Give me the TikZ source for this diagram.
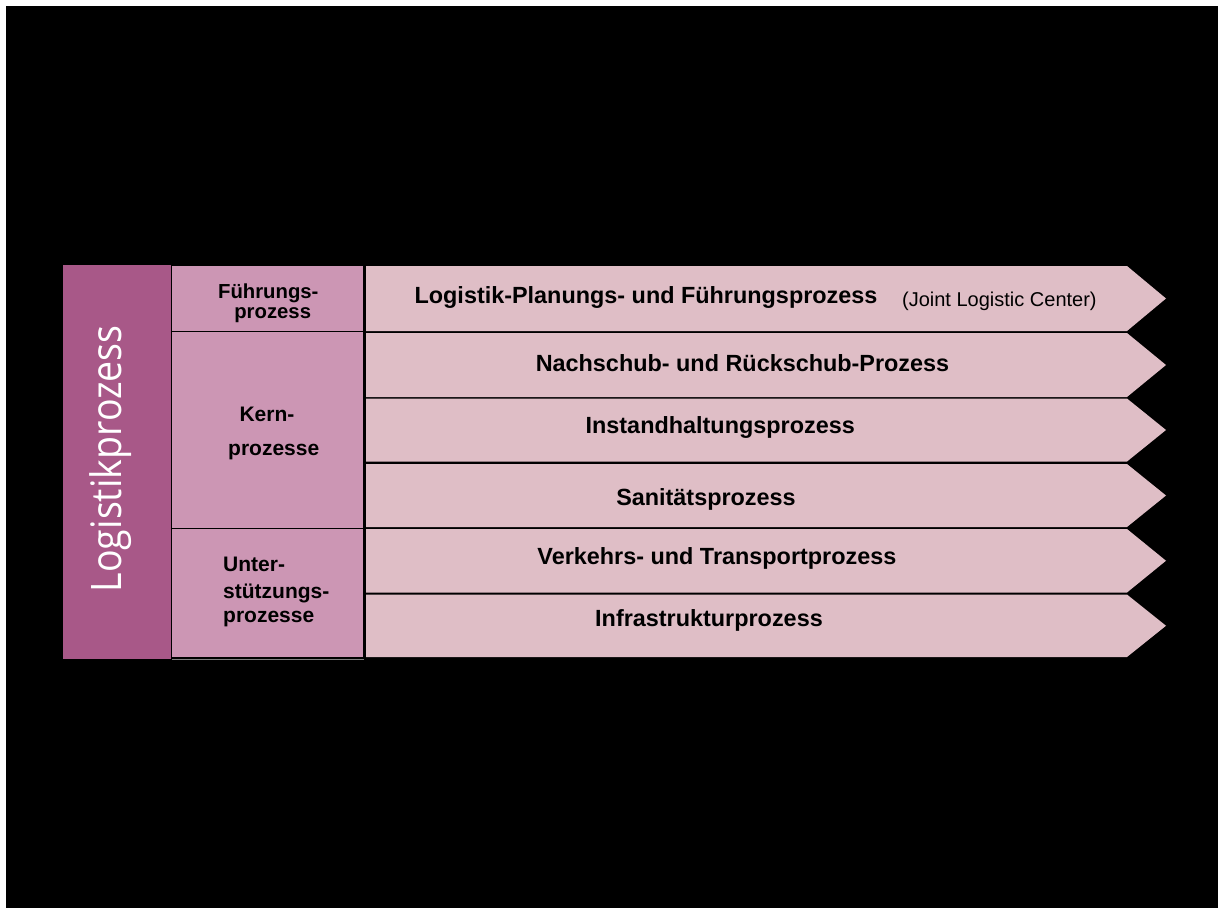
\documentclass[tikz,border=0pt]{standalone}
\usepackage{fontspec}
\setmainfont{Liberation Sans}
\newfontfamily\osans{Open Sans}
\definecolor{darkc}{HTML}{A85888}
\definecolor{midc}{HTML}{CC96B4}
\definecolor{lightc}{HTML}{DFBEC6}
\begin{document}
\begin{tikzpicture}[x=1pt,y=-1pt,
  cellbox/.style={fill=midc, draw=black, line width=1pt},
  arrowbox/.style={fill=lightc},
  bigtxt/.style={font=\fontsize{23.4}{27}\selectfont\bfseries, anchor=base, inner sep=0pt},
  smalltxt/.style={font=\fontsize{20}{24}\selectfont, anchor=base, inner sep=0pt},
  midtxt/.style={font=\fontsize{21}{25}\selectfont\bfseries, anchor=base, inner sep=0pt},
  midtxts/.style={font=\fontsize{20.3}{24}\selectfont\bfseries, anchor=base, inner sep=0pt},
  midtxtl/.style={font=\fontsize{21}{25}\selectfont\bfseries, anchor=base west, inner sep=0pt},
  ]
\useasboundingbox (0,0) rectangle (1218,911);
\fill[white] (0,0) rectangle (1218,911);
\fill[black] (6,6) rectangle (1218,908);
% left column
\fill[darkc] (63,265) rectangle (170.5,659);
% middle column
\path[cellbox] (171.5,265.5) rectangle (363,331.5);
\path[cellbox] (171.5,331.5) rectangle (363,528);
\path[cellbox] (171.5,528) rectangle (363,657.5);
\draw[gray, line width=1pt] (172,659) -- (364,659);
% arrows
\foreach \t/\b in {266/331, 333/397, 398.5/461.5, 464/527, 529/592.5, 594.5/657}{
  \path[arrowbox] (366,\t) -- (1127,\t) -- (1166,{(\t+\b)/2}) -- (1127,\b) -- (366,\b) -- cycle;
}
% texts
\node[rotate=90, anchor=base, text=white, inner sep=0pt,
      font=\osans\fontsize{42}{50}\selectfont] (lp) at (121.7,458.7)
      {\scalebox{0.894}[1]{Logistikprozess}};
\node[midtxts] (f1) at (268.3,298.5) {Führungs-};
\node[midtxts] (f2) at (272.7,318.5) {prozess};
\node[midtxt] (k1) at (267,421.7) {Kern-};
\node[midtxt] (k2) at (273.7,455) {prozesse};
\node[midtxtl] (u1) at (223,571.7) {Unter-};
\node[midtxtl] (u2) at (223,598) {stützungs-};
\node[midtxtl] (u3) at (223,622.7) {prozesse};
\node[bigtxt] (a1) at (646,303.3) {Logistik-Planungs- und Führungsprozess};
\node[smalltxt] (a1b) at (999.4,306.7) {(Joint Logistic Center)};
\node[bigtxt] (a2) at (742.5,371.7) {Nachschub- und Rückschub-Prozess};
\node[bigtxt] (a3) at (720.2,433.3) {Instandhaltungsprozess};
\node[bigtxt] (a4) at (706,505) {Sanitätsprozess};
\node[bigtxt] (a5) at (716.9,564.3) {Verkehrs- und Transportprozess};
\node[bigtxt] (a6) at (709,626.7) {Infrastrukturprozess};
\end{tikzpicture}
\end{document}
